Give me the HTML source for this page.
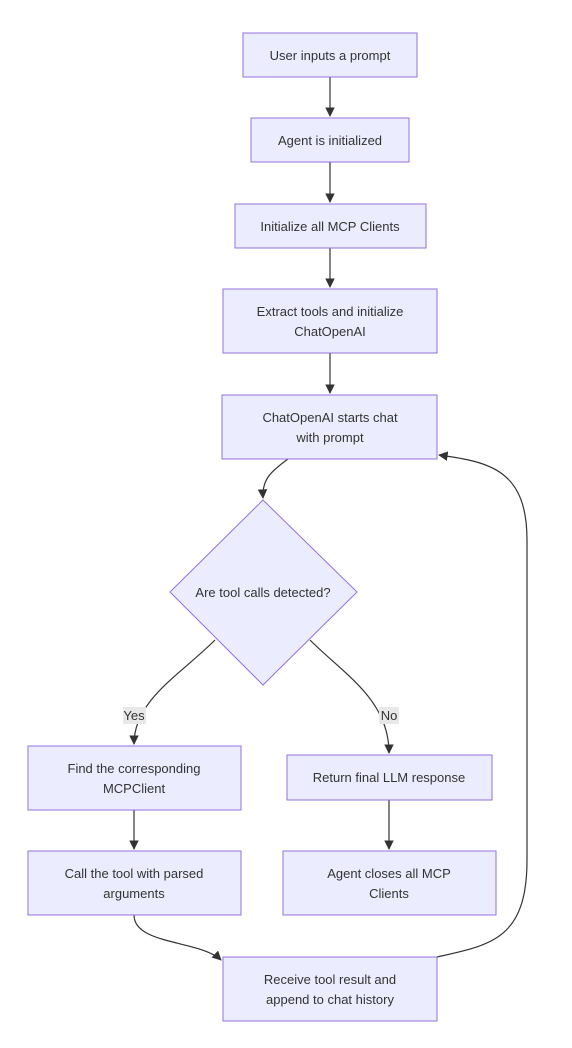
<!DOCTYPE html>
<html><head><meta charset="utf-8"><style>
html,body{margin:0;padding:0;background:#fff;}
svg{display:block;}
text{font-family:"Liberation Sans",Arial,sans-serif;font-size:13px;fill:#333;text-anchor:middle;}
.n{fill:#ECECFF;stroke:#9370DB;stroke-width:1;}
.e{fill:none;stroke:#333;stroke-width:1.2;}
</style></head><body>
<svg width="572" height="1048" viewBox="0 0 572 1048" xmlns="http://www.w3.org/2000/svg">
<defs><marker id="a" viewBox="0 0 10 10" refX="9" refY="5" markerWidth="8" markerHeight="8" orient="auto"><path d="M0,0L10,5L0,10z" fill="#333"/></marker></defs>
<g class="e">
<path d="M330,77V116" marker-end="url(#a)"/>
<path d="M330,162V202" marker-end="url(#a)"/>
<path d="M330,248V287" marker-end="url(#a)"/>
<path d="M330,353V393" marker-end="url(#a)"/>
<path d="M288,459C270,472 262,480 263,498" marker-end="url(#a)"/>
<path d="M215,640C180,675 134,700 134,744" marker-end="url(#a)"/>
<path d="M310,640C345,675 389,700 389,753" marker-end="url(#a)"/>
<path d="M134,810V849" marker-end="url(#a)"/>
<path d="M389,800V849" marker-end="url(#a)"/>
<path d="M134,915C134,945 200,940 221,960" marker-end="url(#a)"/>
<path d="M437,957C490,945 527,940 527,860V540C527,470 490,462 439,455" marker-end="url(#a)"/>
</g>
<rect class="n" x="243" y="33" width="174" height="44"/><text x="330" y="60">User inputs a prompt</text>
<rect class="n" x="251" y="118" width="158" height="44"/><text x="330" y="145">Agent is initialized</text>
<rect class="n" x="235" y="204" width="191" height="44"/><text x="330" y="231">Initialize all MCP Clients</text>
<rect class="n" x="223" y="289" width="214" height="64"/><text x="330" y="316">Extract tools and initialize</text><text x="330" y="336">ChatOpenAI</text>
<rect class="n" x="222" y="395" width="215" height="64"/><text x="330" y="422">ChatOpenAI starts chat</text><text x="330" y="442">with prompt</text>
<polygon class="n" points="263,500 357,592 263,685 170,592"/><text x="263" y="597">Are tool calls detected?</text>
<rect x="123" y="707" width="23" height="17" fill="#e8e8e8"/><text x="134" y="720">Yes</text>
<rect x="379" y="707" width="20" height="17" fill="#e8e8e8"/><text x="389" y="720">No</text>
<rect class="n" x="28" y="746" width="213" height="64"/><text x="134" y="773">Find the corresponding</text><text x="134" y="793">MCPClient</text>
<rect class="n" x="287" y="755" width="205" height="45"/><text x="389" y="782">Return final LLM response</text>
<rect class="n" x="28" y="851" width="213" height="64"/><text x="134" y="878">Call the tool with parsed</text><text x="134" y="898">arguments</text>
<rect class="n" x="283" y="851" width="213" height="64"/><text x="389" y="878">Agent closes all MCP</text><text x="389" y="898">Clients</text>
<rect class="n" x="223" y="957" width="214" height="64"/><text x="330" y="984">Receive tool result and</text><text x="330" y="1004">append to chat history</text>
</svg>
</body></html>
